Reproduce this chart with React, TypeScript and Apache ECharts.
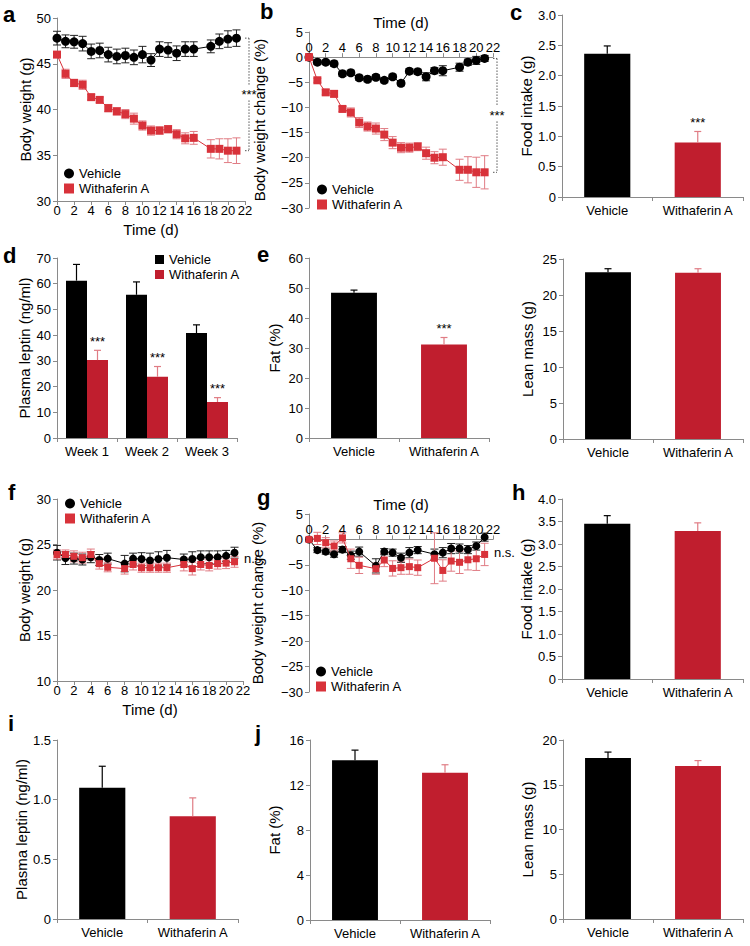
import React, { useEffect, useRef } from 'react';
import * as echarts from 'echarts';

const FONT = "'Liberation Sans', Arial, Helvetica, sans-serif";
const BLACK = '#000000';
const RED_LINE = '#D8323A';
const RED_BAR = '#C01E2E';
const RED_ERR = '#E07C84';
const BLACK_ERR = '#222222';
const AXIS_COLOR = '#8a8a8a';

// ---------- data ----------
const groups = ['Vehicle', 'Withaferin A'];
const weeks = ['Week 1', 'Week 2', 'Week 3'];

// a: body weight (g), obese mice
const daysA = [0, 1, 2, 3, 4, 5, 6, 7, 8, 9, 10, 11, 12, 13, 14, 15, 16, 18, 19, 20, 21];
const vehA = [47.8, 47.45, 47.4, 47.2, 46.35, 46.45, 46.0, 45.8, 45.9, 45.7, 46.0, 45.4, 46.6, 46.5, 46.15, 46.6, 46.6, 46.9, 47.45, 47.7, 47.8];
const vehErrA = [0.75, 0.7, 0.7, 0.8, 0.8, 0.8, 0.8, 0.8, 0.8, 0.8, 0.9, 0.7, 0.8, 0.8, 0.8, 0.8, 0.8, 0.7, 0.8, 0.9, 0.9];
const witA = [46.0, 43.9, 42.9, 42.7, 41.35, 41.05, 40.15, 39.8, 39.5, 39.0, 38.25, 37.7, 37.7, 37.85, 37.3, 36.85, 36.9, 35.7, 35.7, 35.5, 35.5];
const witErrA = [0.3, 0.5, 0.4, 0.5, 0.3, 0.3, 0.4, 0.4, 0.5, 0.6, 0.5, 0.5, 0.4, 0.4, 0.5, 0.6, 0.7, 1.0, 1.1, 1.3, 1.4];

// b: body weight change (%)
const daysB = [0, 1, 2, 3, 4, 5, 6, 7, 8, 9, 10, 11, 12, 13, 14, 15, 16, 18, 19, 20, 21];
const vehB = [0, -1.0, -1.0, -1.3, -3.3, -3.1, -4.1, -4.4, -4.0, -4.6, -3.9, -5.2, -2.8, -2.9, -3.9, -2.7, -2.7, -2.0, -1.0, -0.65, -0.26];
const vehErrB = [0.3, 0.4, 0.4, 0.5, 0.5, 0.5, 0.5, 0.5, 0.5, 0.5, 0.5, 0.5, 0.5, 0.5, 0.8, 0.6, 1.0, 0.8, 0.6, 0.8, 0.6];
const witB = [0, -4.6, -7.0, -7.3, -10.3, -11.0, -13.0, -13.8, -14.2, -15.4, -17.0, -18.0, -18.0, -17.8, -19.1, -20.0, -19.9, -22.4, -22.4, -22.9, -22.9];
const witErrB = [0.2, 0.4, 0.5, 0.6, 0.5, 0.9, 1.0, 0.9, 1.1, 1.2, 1.2, 1.0, 0.9, 0.8, 1.2, 1.2, 1.6, 2.1, 2.6, 3.0, 3.3];

// c: food intake (g)
const foodC = [2.36, 0.9];
const foodErrC = [0.13, 0.18];

// d: plasma leptin (ng/ml) by week
const leptinVehD = [61.2, 55.7, 40.8];
const leptinVehErrD = [6.3, 5.0, 3.2];
const leptinWitD = [30.3, 23.8, 14.0];
const leptinWitErrD = [3.8, 4.0, 1.7];

// e: fat (%) and lean mass (g)
const fatE = [48.4, 31.2];
const fatErrE = [0.9, 2.3];
const leanE = [23.15, 23.1];
const leanErrE = [0.5, 0.55];

// f: body weight (g), lean mice
const daysF = [0, 1, 2, 3, 4, 5, 6, 8, 9, 10, 11, 12, 13, 15, 16, 17, 18, 19, 20, 21];
const vehF = [24.1, 23.5, 23.45, 23.35, 23.6, 23.3, 23.45, 22.9, 23.45, 23.4, 23.25, 23.4, 23.55, 23.35, 23.4, 23.6, 23.6, 23.6, 23.75, 24.1];
const vehErrF = [0.8, 0.7, 0.6, 0.6, 0.6, 0.6, 0.6, 0.9, 0.6, 0.7, 0.8, 0.8, 0.8, 0.6, 0.8, 0.7, 0.7, 0.7, 0.6, 0.6];
const witF = [23.9, 23.9, 23.7, 23.55, 23.9, 22.9, 22.5, 22.35, 22.8, 22.45, 22.45, 22.45, 22.45, 22.8, 22.35, 22.8, 22.7, 22.9, 22.95, 23.1];
const witErrF = [0.5, 0.5, 0.6, 0.6, 0.6, 0.6, 0.5, 0.6, 0.6, 0.5, 0.5, 0.5, 0.5, 0.7, 0.7, 0.6, 0.6, 0.6, 0.6, 0.6];

// g: body weight change (%), lean mice
const daysG = [0, 1, 2, 3, 4, 5, 6, 8, 9, 10, 11, 12, 13, 15, 16, 17, 18, 19, 20, 21];
const vehG = [0, -2.1, -2.4, -2.9, -2.0, -3.1, -2.4, -5.2, -2.4, -2.6, -3.6, -2.6, -2.1, -2.9, -2.6, -1.8, -1.8, -2.0, -1.3, 0.45];
const vehErrG = [0.3, 0.5, 0.5, 0.6, 0.6, 0.8, 0.9, 1.4, 0.6, 0.7, 0.9, 1.0, 0.7, 1.0, 1.0, 1.0, 0.9, 0.8, 0.8, 0.8];
const witG = [0, 0.2, -0.65, -1.3, 0.3, -3.8, -5.1, -5.75, -4.05, -5.7, -5.55, -5.35, -5.55, -3.7, -6.1, -4.25, -4.5, -4.0, -3.8, -2.95];
const witErrG = [0.2, 1.2, 1.0, 1.0, 1.0, 1.9, 1.6, 1.1, 1.3, 1.5, 1.3, 1.5, 1.5, 5.0, 2.1, 2.0, 2.2, 2.0, 2.3, 2.2];

// h: food intake (g), lean mice
const foodH = [3.45, 3.29];
const foodErrH = [0.18, 0.18];

// i: plasma leptin (ng/ml), lean mice
const leptinI = [1.1, 0.86];
const leptinErrI = [0.18, 0.155];

// j: fat (%) and lean mass (g), lean mice
const fatJ = [14.2, 13.1];
const fatErrJ = [0.9, 0.7];
const leanJ = [18.0, 17.1];
const leanErrJ = [0.65, 0.6];

// axis ranges of the % change panels
const changeMin = -30;
const changeMax = 5;

// ---------- layout ----------
const GRIDS = [
  { left: 57, top: 18, width: 188, height: 183 }, // 0 a
  { left: 309, top: 32, width: 184, height: 176 }, // 1 b
  { left: 562, top: 15, width: 181, height: 182 }, // 2 c
  { left: 57, top: 258, width: 180, height: 180 }, // 3 d
  { left: 309, top: 258, width: 180, height: 180 }, // 4 e fat
  { left: 563, top: 259, width: 180, height: 180 }, // 5 e lean
  { left: 57, top: 499, width: 186, height: 182 }, // 6 f
  { left: 309, top: 514, width: 184, height: 178 }, // 7 g
  { left: 562, top: 499, width: 181, height: 180 }, // 8 h
  { left: 57, top: 740, width: 181, height: 179 }, // 9 i
  { left: 310, top: 740, width: 180, height: 180 }, // 10 j fat
  { left: 563, top: 740, width: 180, height: 179 }, // 11 j lean
];

const LETTERS = [
  { t: 'a', x: 3, y: 14 },
  { t: 'b', x: 260, y: 11 },
  { t: 'c', x: 510, y: 12 },
  { t: 'd', x: 3, y: 255 },
  { t: 'e', x: 257, y: 254 },
  { t: 'f', x: 8, y: 492 },
  { t: 'g', x: 257, y: 497 },
  { t: 'h', x: 512, y: 492 },
  { t: 'i', x: 8, y: 723 },
  { t: 'j', x: 255, y: 733 },
];

const labelStyle = { color: '#000', fontSize: 13, fontFamily: FONT };
const nameStyle = { color: '#000', fontSize: 15, fontFamily: FONT };
const axisLine = { show: true, lineStyle: { color: AXIS_COLOR, width: 1 } };
const axisTick = { show: true, length: 4, lineStyle: { color: AXIS_COLOR, width: 1 } };

const minus = (v: number) => String(v).replace('-', '\u2212');
const oneDec = (v: number) => (v === 0 ? '0' : v.toFixed(1));

function yAxis(gi: number, min: number, max: number, interval: number, name: string, nameGap: number, fmt?: (v: number) => string) {
  return {
    gridIndex: gi, type: 'value', min, max, interval,
    axisLine: { ...axisLine, onZero: false }, axisTick, splitLine: { show: false },
    axisLabel: { ...labelStyle, margin: 6, formatter: fmt || ((v: number) => minus(v)) },
    name, nameLocation: 'middle', nameGap, nameTextStyle: nameStyle,
  };
}

// time axis; for the top variant it is shifted down onto the y = 0 line
function timeAxis(gi: number, top: boolean) {
  const h = GRIDS[gi].height;
  const offset = top ? -(h * changeMax) / (changeMax - changeMin) : 0;
  return {
    gridIndex: gi, type: 'value', min: 0, max: 22, interval: 2,
    position: top ? 'top' : 'bottom',
    offset,
    axisLine: { ...axisLine, onZero: false },
    axisTick, splitLine: { show: false },
    axisLabel: { ...labelStyle, margin: 3 },
    name: 'Time (d)', nameLocation: 'middle', nameGap: top ? 27 : 21, nameTextStyle: nameStyle,
  };
}

function catAxis(gi: number, cats: string[]) {
  return {
    gridIndex: gi, type: 'category', data: cats,
    axisLine: { ...axisLine, onZero: false }, axisTick,
    axisLabel: { ...labelStyle, margin: 7, interval: 0 },
  };
}

function lineSeries(gi: number, name: string, days: number[], vals: number[], color: string, symbol: string, size: number, z: number) {
  return {
    type: 'line', name, xAxisIndex: gi, yAxisIndex: gi,
    data: days.map((d, i) => [d, vals[i]]),
    symbol, symbolSize: size, showSymbol: true,
    lineStyle: { color, width: 1 }, itemStyle: { color },
    z, silent: true, emphasis: { disabled: true },
  };
}

function lineErrSeries(gi: number, days: number[], vals: number[], errs: number[], color: string, z: number) {
  return {
    type: 'custom', xAxisIndex: gi, yAxisIndex: gi, z, silent: true,
    data: days.map((d, i) => [d, vals[i], errs[i]]),
    encode: { x: 0, y: 1 },
    renderItem: (params: any, api: any) => {
      const x = api.value(0), v = api.value(1), e = api.value(2);
      const t = api.coord([x, v + e]);
      const b = api.coord([x, v - e]);
      const w = 4;
      const st = { stroke: color, lineWidth: 1, fill: null };
      return {
        type: 'group', children: [
          { type: 'line', shape: { x1: t[0], y1: t[1], x2: b[0], y2: b[1] }, style: st },
          { type: 'line', shape: { x1: t[0] - w, y1: t[1], x2: t[0] + w, y2: t[1] }, style: st },
          { type: 'line', shape: { x1: b[0] - w, y1: b[1], x2: b[0] + w, y2: b[1] }, style: st },
        ],
      };
    },
  };
}

function textEl(x: number, y: number, text: string, align: string, size = 13) {
  return {
    type: 'text', x, y,
    style: {
      text, fill: '#000', font: `${size}px ${FONT}`,
      textAlign: align, align, textVerticalAlign: 'middle', verticalAlign: 'middle',
    },
  };
}

function barErrSeries(gi: number, vals: number[], errs: number[], colors: string[], offset: number, labels: string[]) {
  return {
    type: 'custom', xAxisIndex: gi, yAxisIndex: gi, z: 5, silent: true,
    data: vals.map((v, i) => [i, v, errs[i]]),
    encode: { x: 0, y: 1 },
    renderItem: (params: any, api: any) => {
      const i = api.value(0), v = api.value(1), e = api.value(2);
      const base = api.coord([i, v]);
      const top = api.coord([i, v + e]);
      const band = api.size([1, 0])[0];
      const x = base[0] + offset * band;
      const color = colors[params.dataIndex];
      const st = { stroke: color, lineWidth: 1.2, fill: null };
      const children: any[] = [
        { type: 'line', shape: { x1: x, y1: base[1], x2: x, y2: top[1] }, style: st },
        { type: 'line', shape: { x1: x - 3.5, y1: top[1], x2: x + 3.5, y2: top[1] }, style: st },
      ];
      const lab = labels[params.dataIndex];
      if (lab) children.push(textEl(x, top[1] - 9, lab, 'center'));
      return { type: 'group', children };
    },
  };
}

function pairBarSeries(gi: number, vals: number[]) {
  return {
    type: 'bar', xAxisIndex: gi, yAxisIndex: gi, barWidth: '51%', z: 2, silent: true,
    data: vals.map((v, i) => ({ value: v, itemStyle: { color: i === 0 ? BLACK : RED_BAR } })),
  };
}

function bracketSeries(gi: number, x: number, top: number, bottom: number, label: string) {
  return {
    type: 'custom', xAxisIndex: gi, yAxisIndex: gi, z: 6, silent: true,
    data: [[x, top, bottom]],
    encode: { x: 0, y: 1 },
    renderItem: (params: any, api: any) => {
      const p1 = api.coord([api.value(0), api.value(1)]);
      const p2 = api.coord([api.value(0), api.value(2)]);
      const bx = p1[0] + 4;
      const mid = (p1[1] + p2[1]) / 2;
      const st = { stroke: '#555', lineWidth: 1, lineDash: [1.5, 1.5], fill: null };
      return {
        type: 'group', children: [
          { type: 'line', shape: { x1: p1[0], y1: p1[1], x2: bx, y2: p1[1] }, style: st },
          { type: 'line', shape: { x1: bx, y1: p1[1], x2: bx, y2: mid - 9 }, style: st },
          { type: 'line', shape: { x1: bx, y1: mid + 6, x2: bx, y2: p2[1] }, style: st },
          { type: 'line', shape: { x1: p2[0], y1: p2[1], x2: bx, y2: p2[1] }, style: st },
          textEl(bx, mid, label, 'center'),
        ],
      };
    },
  };
}

function noteSeries(gi: number, x: number, y: number, label: string) {
  return {
    type: 'custom', xAxisIndex: gi, yAxisIndex: gi, z: 6, silent: true,
    data: [[x, y]],
    encode: { x: 0, y: 1 },
    renderItem: (params: any, api: any) => {
      const p = api.coord([api.value(0), api.value(1)]);
      return textEl(p[0] + 1, p[1], label, 'left');
    },
  };
}

function legend(left: number, top: number, circle: boolean, redColor: string, size: number) {
  return {
    orient: 'vertical', left, top, itemWidth: size, itemHeight: size, itemGap: 2,
    selectedMode: false, padding: 0,
    textStyle: { ...labelStyle },
    data: [
      { name: 'Vehicle', icon: circle ? 'circle' : 'rect', itemStyle: { color: BLACK } },
      { name: 'Withaferin A', icon: 'rect', itemStyle: { color: redColor } },
    ],
  };
}

function buildOption() {
  const xAxes = [
    timeAxis(0, false),
    timeAxis(1, true),
    catAxis(2, groups),
    catAxis(3, weeks),
    catAxis(4, groups),
    catAxis(5, groups),
    timeAxis(6, false),
    timeAxis(7, true),
    catAxis(8, groups),
    catAxis(9, groups),
    catAxis(10, groups),
    catAxis(11, groups),
  ];
  const yAxes = [
    yAxis(0, 30, 50, 5, 'Body weight (g)', 24),
    yAxis(1, changeMin, changeMax, 5, 'Body weight change (%)', 42),
    yAxis(2, 0, 3, 0.5, 'Food intake (g)', 24, oneDec),
    yAxis(3, 0, 70, 10, 'Plasma leptin (ng/ml)', 25),
    yAxis(4, 0, 60, 10, 'Fat (%)', 27),
    yAxis(5, 0, 25, 5, 'Lean mass (g)', 28),
    yAxis(6, 10, 30, 5, 'Body weight (g)', 25),
    yAxis(7, changeMin, changeMax, 5, 'Body weight change (%)', 44),
    yAxis(8, 0, 4, 0.5, 'Food intake (g)', 25, oneDec),
    yAxis(9, 0, 1.5, 0.5, 'Plasma leptin (ng/ml)', 27, oneDec),
    yAxis(10, 0, 16, 4, 'Fat (%)', 28),
    yAxis(11, 0, 20, 5, 'Lean mass (g)', 28),
  ];

  const series: any[] = [
    // a
    lineErrSeries(0, daysA, vehA, vehErrA, BLACK_ERR, 1),
    lineErrSeries(0, daysA, witA, witErrA, RED_ERR, 1),
    lineSeries(0, 'Vehicle', daysA, vehA, BLACK, 'circle', 9, 3),
    lineSeries(0, 'Withaferin A', daysA, witA, RED_LINE, 'rect', 8, 4),
    bracketSeries(0, 22, vehA[vehA.length - 1], witA[witA.length - 1], '***'),
    // b
    lineErrSeries(1, daysB, vehB, vehErrB, BLACK_ERR, 1),
    lineErrSeries(1, daysB, witB, witErrB, RED_ERR, 1),
    lineSeries(1, 'Vehicle', daysB, vehB, BLACK, 'circle', 9, 3),
    lineSeries(1, 'Withaferin A', daysB, witB, RED_LINE, 'rect', 8, 4),
    bracketSeries(1, 22, vehB[vehB.length - 1], witB[witB.length - 1], '***'),
    // c
    pairBarSeries(2, foodC),
    barErrSeries(2, foodC, foodErrC, [BLACK, RED_ERR], 0, ['', '***']),
    // d
    {
      type: 'bar', name: 'Vehicle', xAxisIndex: 3, yAxisIndex: 3, barGap: '0%', barCategoryGap: '30%',
      itemStyle: { color: BLACK }, data: leptinVehD, z: 2, silent: true,
    },
    {
      type: 'bar', name: 'Withaferin A', xAxisIndex: 3, yAxisIndex: 3, barGap: '0%', barCategoryGap: '30%',
      itemStyle: { color: RED_BAR }, data: leptinWitD, z: 2, silent: true,
    },
    barErrSeries(3, leptinVehD, leptinVehErrD, [BLACK, BLACK, BLACK], -0.175, ['', '', '']),
    barErrSeries(3, leptinWitD, leptinWitErrD, [RED_ERR, RED_ERR, RED_ERR], 0.175, ['***', '***', '***']),
    // e
    pairBarSeries(4, fatE),
    barErrSeries(4, fatE, fatErrE, [BLACK, RED_ERR], 0, ['', '***']),
    pairBarSeries(5, leanE),
    barErrSeries(5, leanE, leanErrE, [BLACK, RED_ERR], 0, ['', '']),
    // f
    lineErrSeries(6, daysF, vehF, vehErrF, BLACK_ERR, 1),
    lineErrSeries(6, daysF, witF, witErrF, RED_ERR, 1),
    lineSeries(6, 'Vehicle', daysF, vehF, BLACK, 'circle', 8, 3),
    lineSeries(6, 'Withaferin A', daysF, witF, RED_LINE, 'rect', 7, 4),
    noteSeries(6, 22, 23.5, 'n.s.'),
    // g
    lineErrSeries(7, daysG, vehG, vehErrG, BLACK_ERR, 1),
    lineErrSeries(7, daysG, witG, witErrG, RED_ERR, 1),
    lineSeries(7, 'Vehicle', daysG, vehG, BLACK, 'circle', 8, 3),
    lineSeries(7, 'Withaferin A', daysG, witG, RED_LINE, 'rect', 7, 4),
    noteSeries(7, 22, -2.5, 'n.s.'),
    // h
    pairBarSeries(8, foodH),
    barErrSeries(8, foodH, foodErrH, [BLACK, RED_ERR], 0, ['', '']),
    // i
    pairBarSeries(9, leptinI),
    barErrSeries(9, leptinI, leptinErrI, [BLACK, RED_ERR], 0, ['', '']),
    // j
    pairBarSeries(10, fatJ),
    barErrSeries(10, fatJ, fatErrJ, [BLACK, RED_ERR], 0, ['', '']),
    pairBarSeries(11, leanJ),
    barErrSeries(11, leanJ, leanErrJ, [BLACK, RED_ERR], 0, ['', '']),
  ];

  return {
    animation: false,
    backgroundColor: '#ffffff',
    textStyle: { fontFamily: FONT },
    grid: GRIDS.map((g) => ({ ...g, containLabel: false })),
    xAxis: xAxes,
    yAxis: yAxes,
    legend: [
      legend(64, 167, true, RED_LINE, 10),
      legend(317, 183, true, RED_LINE, 10),
      legend(155, 253, false, RED_BAR, 9),
      legend(65, 497, true, RED_LINE, 10),
      legend(316, 665, true, RED_LINE, 10),
    ],
    graphic: LETTERS.map((l) => ({
      type: 'text', x: l.x, y: l.y,
      style: {
        text: l.t, fill: '#000', font: `bold 22px ${FONT}`,
        textVerticalAlign: 'middle', verticalAlign: 'middle',
      },
    })),
    series,
  };
}

export default function App() {
  const ref = useRef<HTMLDivElement>(null);
  useEffect(() => {
    const chart = echarts.init(ref.current as HTMLDivElement, undefined, { renderer: 'svg' });
    chart.setOption(buildOption() as any);
    return () => chart.dispose();
  }, []);
  return (
    <div
      ref={ref}
      style={{ position: 'absolute', left: 0, top: 0, width: 750, height: 946, background: '#fff' }}
    />
  );
}
